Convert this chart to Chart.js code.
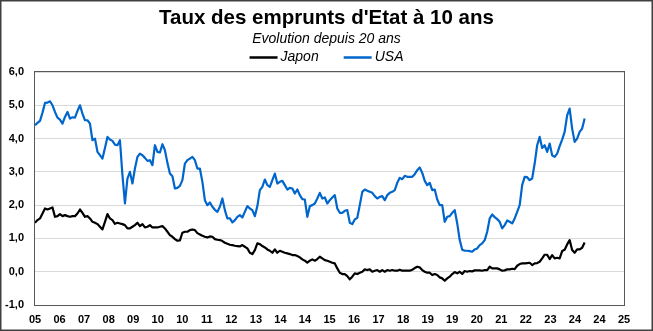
<!DOCTYPE html>
<html><head><meta charset="utf-8">
<script src="https://cdn.jsdelivr.net/npm/chart.js@4"></script>
<style>html,body{margin:0;padding:0;background:#fff}#wrap{width:653px;height:331px;position:relative}</style>
</head><body><div id="wrap"><canvas id="c" width="653" height="331"></canvas></div>
<script>
const xTickLabels = ['05','06','07','08','09','10','10','11','12','13','14','14','15','16','17','18','19','19','20','21','22','23','24','24','25'];
const yTicks = [-1, 0, 1, 2, 3, 4, 5, 6];
const seriesNames = ['Japon', 'USA'];
const japanRate = [
1.47,1.55,1.6,1.75,1.9,1.87,1.9,1.93,1.65,1.67,
1.73,1.67,1.7,1.67,1.65,1.67,1.67,1.75,1.87,1.77,
1.65,1.67,1.6,1.5,1.47,1.43,1.35,1.27,1.5,1.73,
1.6,1.55,1.44,1.47,1.45,1.43,1.4,1.3,1.3,1.35,
1.4,1.47,1.37,1.43,1.33,1.35,1.4,1.33,1.33,1.33,
1.35,1.37,1.3,1.2,1.1,1.05,0.98,0.93,0.94,1.17,
1.2,1.2,1.25,1.27,1.25,1.16,1.12,1.08,1.05,1.03,
1.06,1.05,0.98,0.96,0.95,0.92,0.87,0.84,0.81,0.8,
0.78,0.77,0.76,0.8,0.75,0.7,0.57,0.53,0.65,0.85,
0.83,0.77,0.73,0.67,0.63,0.57,0.67,0.57,0.63,0.6,
0.57,0.55,0.53,0.5,0.5,0.47,0.43,0.37,0.33,0.27,
0.33,0.37,0.33,
0.38,0.45,0.4,0.35,0.33,0.3,0.27,0.25,0.1,-0.03,
-0.07,-0.07,-0.13,-0.23,-0.15,-0.05,-0.07,-0.03,0.0,0.07,
0.05,0.07,0.0,0.03,0.05,0.0,0.05,0.0,0.05,0.03,
0.05,0.03,0.03,0.06,0.03,0.03,0.03,0.03,0.06,0.11,
0.15,0.13,0.05,0.0,-0.03,-0.03,-0.1,-0.07,-0.1,-0.17,
-0.2,-0.27,-0.2,-0.15,-0.07,-0.01,-0.05,0.0,-0.07,0.02,
0.0,0.02,0.01,0.04,0.04,0.04,0.03,0.05,0.05,0.15,
0.1,0.1,0.1,0.07,0.03,0.04,0.07,0.07,0.09,0.08,
0.18,0.23,0.25,0.25,0.26,0.27,0.2,0.25,0.26,0.3,
0.4,0.51,0.51,0.38,0.5,0.4,0.42,0.4,0.62,0.66,
0.82,0.95,0.65,0.57,0.67,0.67,0.72,0.88
];
const usaRate = [
4.40,4.47,4.53,4.78,5.07,5.08,5.12,5.0,4.8,4.63,
4.57,4.45,4.65,4.8,4.6,4.64,4.63,4.83,5.0,4.75,
4.55,4.55,4.45,3.95,4.0,3.6,3.5,3.4,3.72,4.05,
3.97,3.93,3.82,3.8,3.95,2.9,2.05,2.8,3.0,2.65,
3.1,3.45,3.55,3.5,3.42,3.33,3.35,3.2,3.8,3.6,
3.58,3.83,3.65,3.27,2.95,2.87,2.5,2.52,2.58,2.75,
3.25,3.35,3.4,3.45,3.35,3.1,3.1,2.7,2.15,2.0,
2.08,1.95,1.86,1.8,1.95,2.2,1.85,1.6,1.6,1.48,
1.55,1.65,1.7,1.63,1.8,1.97,1.9,1.85,1.67,1.97,
2.45,2.55,2.77,2.6,2.55,2.75,2.95,2.65,2.7,2.73,
2.6,2.47,2.52,2.5,2.35,2.47,2.3,2.18,2.17,1.65,
1.97,2.0,2.05,
2.2,2.37,2.2,2.23,2.05,2.15,2.23,2.3,1.9,1.77,
1.77,1.83,1.85,1.47,1.43,1.57,1.62,2.0,2.4,2.47,
2.43,2.4,2.37,2.27,2.2,2.25,2.27,2.15,2.3,2.37,
2.4,2.45,2.67,2.82,2.78,2.88,2.85,2.85,2.85,2.93,
3.05,3.13,2.97,2.73,2.6,2.67,2.45,2.47,2.17,2.0,
2.0,1.5,1.65,1.67,1.77,1.85,1.45,0.95,0.66,0.63,
0.63,0.62,0.6,0.67,0.7,0.8,0.85,0.95,1.2,1.6,
1.72,1.64,1.58,1.5,1.3,1.4,1.54,1.5,1.45,1.6,
1.8,2.0,2.6,2.85,2.84,2.75,2.8,3.25,3.8,4.05,
3.72,3.8,3.6,3.85,3.5,3.45,3.55,3.77,3.97,4.2,
4.7,4.9,4.3,3.9,4.0,4.2,4.3,4.6
];
const STEP = 0.1018; // axis label intervals per observation

const FONT = '"Liberation Sans", Arial, Helvetica, sans-serif';
const toPoints = arr => arr.map((v, i) => ({ x: i * STEP, y: v }));

const framePlugin = {
  id: 'frames',
  afterDraw(chart) {
    const { ctx, chartArea: a } = chart;
    ctx.save();
    ctx.strokeStyle = '#595959';
    ctx.lineWidth = 1;
    ctx.strokeRect(Math.round(a.left) - 0.5, Math.round(a.top) - 0.5, Math.round(a.right - a.left) + 1, Math.round(a.bottom - a.top) + 1);
    ctx.strokeStyle = '#404040';
    ctx.lineWidth = 1.5;
    ctx.strokeRect(0.75, 0.75, chart.width - 1.5, chart.height - 1.5);
    // legend
    ctx.font = 'italic 14px ' + FONT;
    ctx.textBaseline = 'middle';
    const items = chart.data.datasets.map(d => ({ text: d.label, color: d.borderColor }));
    const lineLen = 28, gap = 3, spacing = 25;
    let total = 0;
    items.forEach((it, i) => { it.w = ctx.measureText(it.text).width; total += lineLen + gap + it.w + (i ? spacing : 0); });
    let x = chart.width / 2 - total / 2;
    const y = 57.5;
    items.forEach(it => {
      ctx.strokeStyle = it.color; ctx.lineWidth = 2.5;
      ctx.beginPath(); ctx.moveTo(x, y); ctx.lineTo(x + lineLen, y); ctx.stroke();
      ctx.fillStyle = '#000';
      ctx.fillText(it.text, x + lineLen + gap, y);
      x += lineLen + gap + it.w + spacing;
    });
    ctx.restore();
  }
};

new Chart(document.getElementById('c'), {
  type: 'line',
  data: {
    datasets: [
      { label: seriesNames[0], data: toPoints(japanRate), borderColor: '#000000', borderWidth: 2.2, pointRadius: 0, tension: 0, borderJoinStyle: 'round' },
      { label: seriesNames[1], data: toPoints(usaRate), borderColor: '#0066CC', borderWidth: 2.2, pointRadius: 0, tension: 0, borderJoinStyle: 'round' }
    ]
  },
  options: {
    responsive: false,
    animation: false,
    devicePixelRatio: 1,
    layout: { padding: 0 },
    plugins: {
      legend: { display: false },
      tooltip: { enabled: false },
      title: { display: true, text: "Taux des emprunts d'Etat à 10 ans", color: '#000', font: { family: FONT, size: 20.5, weight: 'bold' }, padding: { top: 6.2, bottom: 0 } },
      subtitle: { display: true, text: 'Evolution depuis 20 ans', color: '#000', font: { family: FONT, size: 14, style: 'italic' }, padding: { top: 0, bottom: 24.4 } }
    },
    scales: {
      x: {
        type: 'linear', min: 0, max: xTickLabels.length - 1,
        afterBuildTicks: s => { s.ticks = xTickLabels.map((_, i) => ({ value: i })); },
        ticks: { callback: v => xTickLabels[v], color: '#000', font: { family: FONT, size: 11, weight: 'bold' }, padding: 8, maxRotation: 0, autoSkip: false },
        grid: { display: false, drawTicks: false },
        border: { display: false },
        afterFit: s => { s.height = 26; }
      },
      y: {
        min: -1, max: 6,
        afterBuildTicks: s => { s.ticks = yTicks.map(v => ({ value: v })); },
        ticks: { callback: v => v.toFixed(1).replace('.', ','), color: '#000', font: { family: FONT, size: 11, weight: 'bold' }, padding: 11 },
        grid: { color: '#d9d9d9', lineWidth: 1, drawTicks: false },
        border: { display: false },
        afterFit: s => { s.width = 35; }
      },
      yRight: {
        position: 'right', min: -1, max: 6,
        ticks: { display: false },
        grid: { display: false, drawTicks: false },
        border: { display: false },
        afterFit: s => { s.width = 29; }
      }
    }
  },
  plugins: [framePlugin]
});
</script></body></html>
